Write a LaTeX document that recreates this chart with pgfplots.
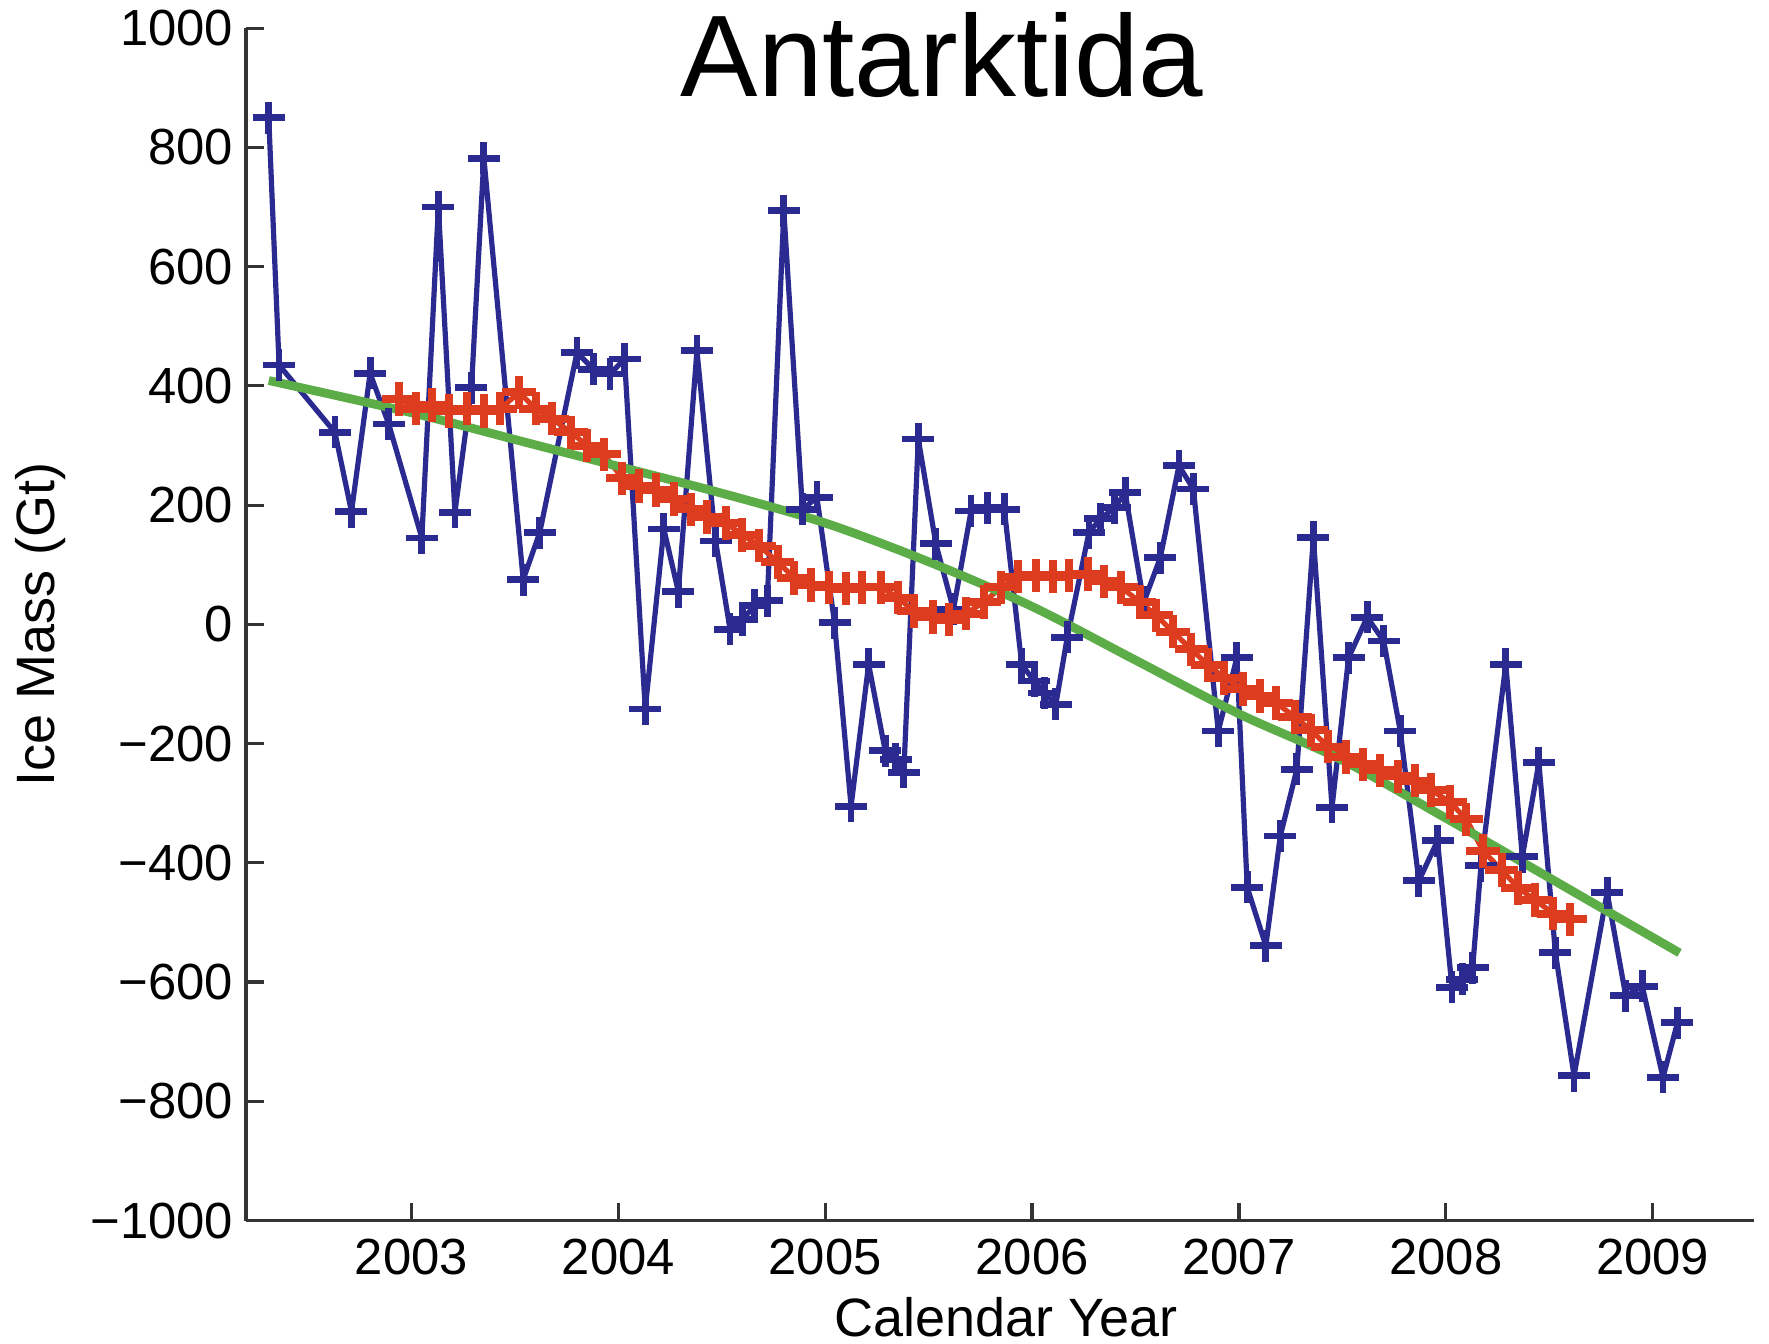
\documentclass[border=0pt]{standalone}
\usepackage{fontspec}
\setmainfont{Liberation Sans}
\usepackage{pgfplots}
\pgfplotsset{compat=1.18}
\definecolor{gblue}{RGB}{42,42,145}
\definecolor{gred}{RGB}{222,60,30}
\definecolor{ggreen}{RGB}{92,172,72}

\begin{document}
\begin{tikzpicture}
\begin{axis}[
  name=ax,
  scale only axis,
  width=377pt, height=298.1pt,
  xmin=2002.2, xmax=2009.49,
  ymin=-1000, ymax=1000,
  axis lines*=left,
  axis line style={line width=0.9pt, black!80},
  tick align=inside,
  major tick length=4.4pt,
  tick style={line width=0.8pt, black!80},
  xtick={2003,2004,2005,2006,2007,2008,2009},
  xticklabels={2003,2004,2005,2006,2007,2008,2009},
  ytick={-1000,-800,-600,-400,-200,0,200,400,600,800,1000},
  yticklabels={−1000,−800,−600,−400,−200,0,200,400,600,800,1000},
  yticklabel style={font=\fontsize{12.7}{14}\selectfont, inner xsep=3pt},
  xticklabel style={font=\fontsize{12.7}{14}\selectfont, inner ysep=4.5pt},
  xlabel={Calendar Year},
  ylabel={Ice Mass (Gt)},
  xlabel style={font=\fontsize{13.5}{15}\selectfont, at={(axis description cs:0.504,-0.0973)}, anchor=base},
  ylabel style={font=\fontsize{13.5}{15}\selectfont, at={(axis description cs:-0.1273,0.5)}, anchor=base},
  title={Antarktida},
  every axis title shift=0pt,
  title style={font=\fontsize{29}{31}\selectfont, at={(axis description cs:0.4615,0.943)}, anchor=base},
]

% monthly mass
\addplot[gblue, line width=1.3pt, line join=round, mark=+, mark size=4pt, mark options={line width=1.7pt}] coordinates {
(2002.31,850) (2002.36,435) (2002.63,322) (2002.71,189) (2002.80,421) (2002.89,336)
(2003.05,145) (2003.13,700) (2003.21,188) (2003.29,397) (2003.35,782) (2003.54,75)
(2003.62,154) (2003.80,456) (2003.88,428) (2003.96,420) (2004.03,445) (2004.13,-142)
(2004.22,160) (2004.29,55) (2004.38,459) (2004.47,140) (2004.54,-8) (2004.60,8)
(2004.66,32) (2004.72,40) (2004.80,694) (2004.89,193) (2004.96,213) (2005.045,3)
(2005.125,-305) (2005.21,-67) (2005.29,-212) (2005.34,-226) (2005.38,-248) (2005.45,311)
(2005.535,135) (2005.62,25) (2005.705,190) (2005.785,196) (2005.866,193) (2005.95,-67)
(2006.01,-95) (2006.06,-115) (2006.115,-134) (2006.17,-22) (2006.275,154) (2006.33,177)
(2006.40,196) (2006.45,221) (2006.54,37) (2006.62,112) (2006.71,266) (2006.78,227)
(2006.90,-179) (2006.99,-56) (2007.04,-441) (2007.13,-539) (2007.20,-355) (2007.28,-243)
(2007.36,146) (2007.45,-307) (2007.53,-56) (2007.62,12) (2007.70,-28) (2007.78,-179)
(2007.87,-430) (2007.96,-363) (2008.03,-609) (2008.08,-595) (2008.13,-576) (2008.17,-405)
(2008.29,-67) (2008.37,-390) (2008.45,-232) (2008.53,-551) (2008.62,-757) (2008.78,-450)
(2008.87,-623) (2008.95,-607) (2009.05,-760) (2009.12,-668)
};

% smoothed
\addplot[gred, line width=1.3pt, line join=round, mark=+, mark size=4.2pt, mark options={line width=2pt}] coordinates {
(2002.94,378) (2003.02,362) (2003.10,368) (2003.18,358) (2003.27,362) (2003.35,358)
(2003.43,362) (2003.52,389) (2003.60,362) (2003.68,345) (2003.77,322) (2003.85,300)
(2003.93,285) (2004.02,245) (2004.10,232) (2004.18,225) (2004.27,210) (2004.35,193)
(2004.43,180) (2004.52,170) (2004.60,150) (2004.68,132) (2004.77,105) (2004.85,78)
(2004.93,66) (2005.02,62) (2005.10,60) (2005.18,62) (2005.27,62) (2005.35,45)
(2005.43,22) (2005.52,12) (2005.60,8) (2005.68,18) (2005.77,38) (2005.85,62)
(2005.93,80) (2006.02,82) (2006.10,80) (2006.18,82) (2006.27,84) (2006.35,72)
(2006.43,62) (2006.52,38) (2006.60,15) (2006.68,-12) (2006.77,-42) (2006.85,-68)
(2006.93,-90) (2007.02,-108) (2007.10,-120) (2007.18,-132) (2007.27,-155) (2007.35,-178)
(2007.43,-205) (2007.52,-222) (2007.60,-235) (2007.68,-245) (2007.77,-255) (2007.85,-262)
(2007.93,-278) (2008.02,-298) (2008.10,-327) (2008.18,-380) (2008.27,-412) (2008.35,-442)
(2008.43,-462) (2008.52,-485) (2008.60,-495)
};

% trend
\addplot[ggreen, line width=2.2pt, smooth, no marks] coordinates {
(2002.31,409) (2003.0,355) (2003.5,310) (2004.0,265) (2004.5,220) (2005.0,170)
(2005.5,105) (2006.0,30) (2006.5,-60) (2007.0,-150) (2007.5,-228) (2008.0,-325)
(2008.5,-425) (2009.13,-551)
};
\end{axis}
\pgfresetboundingbox
\path[use as bounding box] ([xshift=-61.5pt,yshift=-30.8pt]ax.south west) rectangle ([xshift=3.75pt,yshift=7.05pt]ax.north east);
\end{tikzpicture}
\end{document}
